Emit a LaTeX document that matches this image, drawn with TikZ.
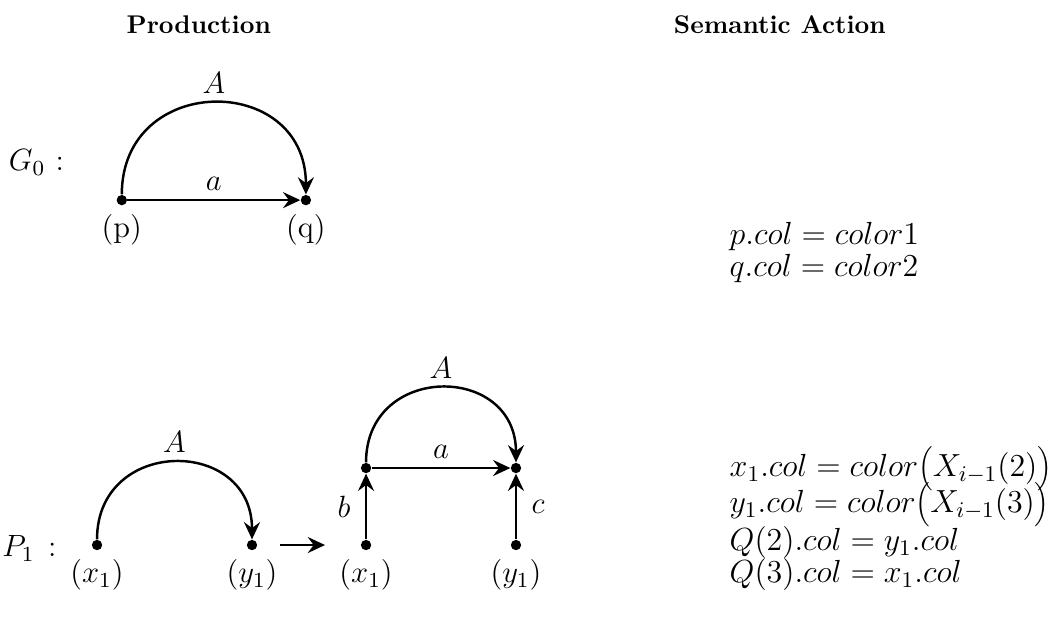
\RequirePackage{fix-cm}
\documentclass[tikz,border=0pt]{standalone}
\usetikzlibrary{arrows.meta}

\newcommand{\actionfont}{\fontsize{13}{13}\selectfont\lineskiplimit=-20pt\relax}

\begin{document}
\begin{tikzpicture}[
		dot/.style={
			circle,
			fill,
			inner sep=0pt,
			minimum size=4.2pt
		},
		edge/.style={draw, line width=1pt, -{Stealth[length=7pt,width=6.5pt,inset=2.4pt]}},
		arcto/.style={out=90, in=90, looseness=1.7},
		heading/.style={font=\bfseries\fontsize{10.4}{12}\selectfont},
		lbl/.style={font=\fontsize{12.5}{15}\selectfont},
		action/.style={
			anchor=west,
			align=left,
			font=\actionfont
		}
		]
		\useasboundingbox (0,0) rectangle (15.014,8.829);
		
		% Column headings
		\node[heading] (prod) at (2.84,8.47) {Production};
		\node[heading] (sem) at (11.14,8.47) {Semantic Action};
		
		% Start graph
		\node[lbl] (g0) at (0.52,6.51) {$G_0\mkern1mu:$};
		\node[dot, label={[lbl]below:(p)}] (p) at (1.74,5.97) {};
		\node[dot, label={[lbl]below:(q)}] (q) at (4.37,5.97) {};
		\draw[edge] (p) to[arcto] node[lbl, above] {$A$} (q);
		\draw[edge] (p) -- node[lbl, above] {$a$} (q);
		
		\node[action] (act0) at (10.3,5.22) {$p.col = color1$\\$q.col = color2$};
		
		% Rule P1, left side
		\node[lbl] (p1) at (0.42,0.99) {$P_1\,:$};
		\node[dot, label={[lbl]below:$(x_1)$}] (lx) at (1.386,1.043) {};
		\node[dot, label={[lbl]below:$(y_1)$}] (ly) at (3.6,1.043) {};
		\draw[edge] (lx) to[arcto] node[lbl, above] {$A$} (ly);
		
		% Rewrite arrow
		\coordinate (rs) at (4.0,1.043);
		\coordinate (re) at (4.643,1.043);
		\draw[edge] (rs) -- (re);
		
		% Rule P1, right side
		\node[dot, label={[lbl]below:$(x_1)$}] (rx) at (5.229,1.043) {};
		\node[dot, label={[lbl]below:$(y_1)$}] (ry) at (7.371,1.043) {};
		\node[dot] (tx) at (5.229,2.143) {};
		\node[dot] (ty) at (7.371,2.143) {};
		\draw[edge] (tx) to[arcto] node[lbl, above] {$A$} (ty);
		\draw[edge] (tx) -- node[lbl, above] {$a$} (ty);
		\draw[edge] (rx) -- node[lbl, left=2.5pt] {$b$} (tx);
		\draw[edge] (ry) -- node[lbl, right=2.5pt] {$c$} (ty);
		
		\node[action] (act1) at (10.3,1.42) {$x_1.col = color\Big(X_{i-1}(2)\Big)$\\[1.6pt]
			$y_1.col = color\Big(X_{i-1}(3)\Big)$\\[2.4pt]
			$Q(2).col = y_1.col$\\
			$Q(3).col = x_1.col$};
		
	\end{tikzpicture}
\end{document}
